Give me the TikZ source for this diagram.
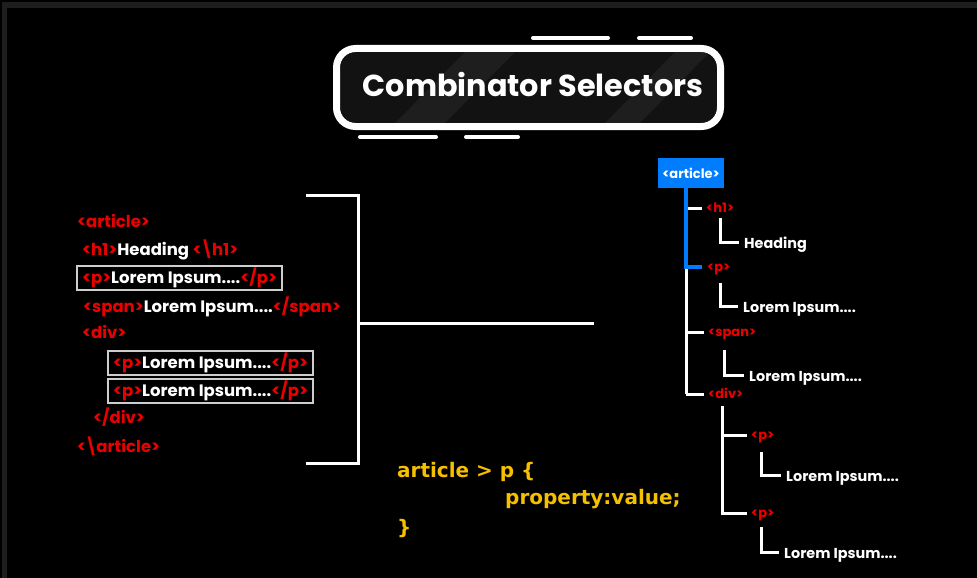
\documentclass[tikz,border=0pt]{standalone}
\usepackage{fontspec}
\setmainfont{Poppins}
\newfontfamily\codefont{DejaVu Sans}
\definecolor{tagred}{RGB}{235,0,0}
\definecolor{treeblue}{RGB}{0,125,255}
\definecolor{codeyellow}{RGB}{245,192,0}
\definecolor{stripgray}{RGB}{30,30,30}
\definecolor{titlefill}{RGB}{18,18,18}
\definecolor{titleband}{RGB}{30,30,30}
\definecolor{boxgray}{RGB}{205,205,205}
\newcommand{\tg}[1]{\textcolor{tagred}{#1}}
\newcommand{\bsl}{\kern-1.5pt\textbackslash\kern-1.5pt}
\tikzset{
  list/.style={font=\bfseries\fontsize{16.5}{19}\selectfont, text=white, anchor=base west, inner sep=0pt, outer sep=0pt},
  boxed/.style={draw=boxgray, line width=1.3pt, inner xsep=5pt, inner ysep=4.5pt, text height=12.5pt, text depth=2.5pt},
  code/.style={font=\codefont\bfseries\fontsize{20}{24}\selectfont, text=codeyellow, anchor=base west, inner sep=0pt},
  ttag/.style={font=\bfseries\fontsize{13}{15}\selectfont, text=tagred, anchor=base west, inner sep=0pt, text height=8pt, text depth=0pt},
  tleaf/.style={font=\bfseries\fontsize{14.4}{17}\selectfont, text=white, anchor=base west, inner sep=0pt, text height=10.5pt, text depth=0pt},
  wl/.style={draw=white, line width=3pt},
  bl/.style={draw=treeblue, line width=4.5pt},
  deco/.style={draw=white, line width=4pt, line cap=round},
  bracket/.style={draw=white, line width=3pt},
}
\begin{document}
\begin{tikzpicture}[x=1pt,y=-1pt]
\useasboundingbox (0,0) rectangle (977,578);
\fill[black] (0,0) rectangle (977,578);
\fill[stripgray] (2,2) rectangle (977,8);
\fill[stripgray] (2,2) rectangle (7,578);

% ---------- title ----------
\fill[titlefill, rounded corners=16pt] (340,52) rectangle (717,123);
\begin{scope}
  \clip[rounded corners=16pt] (340,52) rectangle (717,123);
  \fill[titleband] (395,123) -- (445,123) -- (515,52) -- (465,52) -- cycle;
  \fill[titleband] (605,123) -- (640,123) -- (710,52) -- (675,52) -- cycle;
\end{scope}
\draw[white, line width=7pt, rounded corners=19pt] (336.5,48.5) rectangle (720.5,126.5);
\node[font=\bfseries\fontsize{30.3}{34}\selectfont, text=white, anchor=base, inner sep=0pt] (ttl) at (533,96) {Combinator Selectors};
\draw[deco] (533,38) -- (608,38);
\draw[deco] (639,38) -- (691,38);
\draw[deco] (360,137) -- (436,137);
\draw[deco] (466,137) -- (518,137);

% ---------- left code list ----------
\node[list] (l1) at (77,227) {\tg{<article>}};
\node[list] (l2) at (82,255) {\tg{<h1>}Heading \tg{<\bsl h1>}};
\node[list, boxed] (l3) at (77,283) {\tg{<p>}Lorem Ipsum....\tg{</p>}};
\node[list] (l4) at (83,312) {\tg{<span>}Lorem Ipsum....\tg{</span>}};
\node[list] (l5) at (82,338) {\tg{<div>}};
\node[list, boxed] (l6) at (108,368) {\tg{<p>}Lorem Ipsum....\tg{</p>}};
\node[list, boxed] (l7) at (108,396) {\tg{<p>}Lorem Ipsum....\tg{</p>}};
\node[list] (l8) at (93,423) {\tg{</div>}};
\node[list] (l9) at (77,452) {\tg{<\bsl article>}};

% ---------- bracket ----------
\coordinate (b1) at (306,195);
\coordinate (b2) at (358,195);
\coordinate (b3) at (358,463);
\coordinate (b4) at (306,463);
\coordinate (bm) at (358,323);
\coordinate (be) at (594,323);
\draw[bracket] (b1) -- (b2) -- (b3) -- (b4);
\draw[bracket] (bm) -- (be);

% ---------- css code ----------
\node[code] (c1) at (397,477) {article > p \{};
\node[code] (c2) at (505,504) {property:value;};
\node[code] (c3) at (397,534) {\}};

% ---------- tree ----------
\node[fill=treeblue, text=white, font=\bfseries\fontsize{13}{15}\selectfont, minimum width=66pt, minimum height=30pt, inner sep=0pt] (art) at (691,173) {<article>};
\coordinate (t0) at (686,188);
\coordinate (th) at (686,208);
\coordinate (tp) at (686,267);
\coordinate (ts) at (686,332);
\coordinate (td) at (686,394);

\node[ttag] (h1) at (706,212) {<h1>};
\node[ttag] (p1) at (707,271) {<p>};
\node[ttag] (s1) at (708,336) {<span>};
\node[ttag] (d1) at (708,398) {<div>};

\draw[wl] (tp) -- (td);
\draw[wl, shorten >=4pt] (td) -- (d1.west);
\draw[wl, shorten >=4pt] (ts) -- (s1.west);
\draw[wl, shorten >=4pt] ([xshift=2pt]th) -- (h1.west);
\draw[bl] (t0) -- (tp);
\draw[bl, shorten >=5pt] ([xshift=-2.25pt]tp) -- (p1.west);

\node[tleaf] (hl) at (744,248) {Heading};
\node[tleaf] (pl) at (743,312) {Lorem Ipsum....};
\node[tleaf] (sl) at (749,381) {Lorem Ipsum....};
\coordinate (hv) at (720,218);
\coordinate (pv) at (720,283);
\coordinate (sv) at (724,350);
\draw[wl, shorten >=5pt] (hv) |- (hl.west);
\draw[wl, shorten >=5pt] (pv) |- (pl.west);
\draw[wl, shorten >=5pt] (sv) |- (sl.west);

% div subtree
\coordinate (dv) at (722,406);
\coordinate (dp1) at (722,435);
\coordinate (dp2) at (722,513);
\node[ttag] (q1) at (751,439) {<p>};
\node[ttag] (q2) at (751,517) {<p>};
\draw[wl] (dv) -- (dp2);
\draw[wl, shorten >=4pt] (dp1) -- (q1.west);
\draw[wl, shorten >=4pt] ([xshift=-1.5pt]dp2) -- (q2.west);

\node[tleaf] (ql1) at (786,481) {Lorem Ipsum....};
\node[tleaf] (ql2) at (784,558) {Lorem Ipsum....};
\coordinate (qv1) at (761,452);
\coordinate (qv2) at (761,527);
\draw[wl, shorten >=5pt] (qv1) |- (ql1.west);
\draw[wl, shorten >=5pt] (qv2) |- (ql2.west);
\end{tikzpicture}
\end{document}
